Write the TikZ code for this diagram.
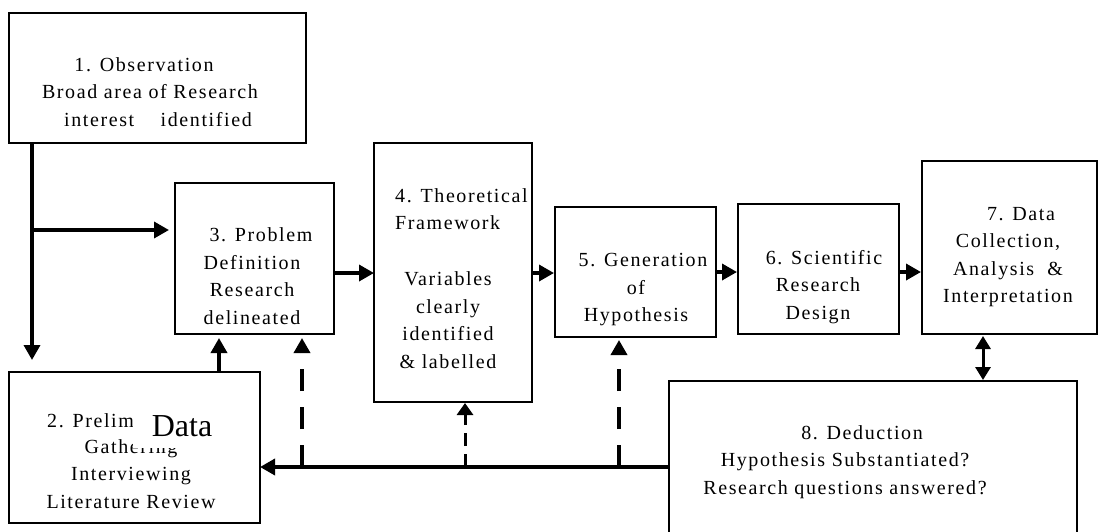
\documentclass[tikz,border=0pt]{standalone}
\usepackage{fontspec}
\setmainfont{Liberation Serif}[LetterSpace=8]
\newfontfamily\plainserif{Liberation Serif}
\usetikzlibrary{arrows.meta}

\begin{document}
\begin{tikzpicture}[x=1pt,y=-1pt,
  box/.style={draw, line width=1.3pt, inner sep=0pt, outer sep=0pt},
  txt/.style={font=\fontsize{20}{27.5}\selectfont, align=center, inner sep=0pt},
  arr/.style={line width=3.5pt, -{Triangle[length=15pt,width=16pt]}},
  darr/.style={arr, dash pattern=on 22pt off 16pt},
  sdarr/.style={line width=3pt, -{Triangle[length=12pt,width=16pt]}, dash pattern=on 13pt off 8pt},
  dblarr/.style={line width=3pt, {Triangle[length=13pt,width=15pt]}-{Triangle[length=13pt,width=15pt]}}
]
\useasboundingbox (0,0) rectangle (1099,531);
\clip (0,0) rectangle (1099,531);
\fill[white] (0,0) rectangle (1099,531);

% boxes
\node[box, minimum width=297pt, minimum height=130pt] (b1) at (157.5,78) {};
\node[box, minimum width=251pt, minimum height=151pt] (b2) at (134.5,447.5) {};
\node[box, minimum width=159pt, minimum height=151pt] (b3) at (254.5,258.5) {};
\node[box, minimum width=158pt, minimum height=259pt] (b4) at (453,272.5) {};
\node[box, minimum width=161pt, minimum height=130pt] (b5) at (635.5,272) {};
\node[box, minimum width=161pt, minimum height=130pt] (b6) at (818.5,269) {};
\node[box, minimum width=175pt, minimum height=173pt] (b7) at (1009.5,247.5) {};
\node[box, minimum width=408pt, minimum height=179pt] (b8) at (873,470.5) {};

% texts
\node[txt] (t1) at (150,92) {1. Observation\hspace*{12pt}\\Broad area of Research\\\hspace*{16pt}interest\ \ \ \ identified};
\node[txt, anchor=west] (t2a) at (47,421) {2. Prelim};
\node[txt] (t2g) at (131,449) {Gathering};
\node[txt, font=\fontsize{20}{28}\selectfont] (t2b) at (131,488) {Interviewing\\Literature Review};
% white patch with the enlarged word on top of the second box's text
\fill[white] (133,400) rectangle (232,448);
\node[font=\plainserif\fontsize{32}{32}\selectfont, inner sep=0pt] (dt) at (182,426) {Data};
\node[txt] (t3) at (252,276) {\hspace*{18pt}3. Problem\\Definition\\Research\\delineated};
\node[txt, anchor=west, align=left] (t4a) at (395,209) {4. Theoretical\\Framework};
\node[txt] (t4b) at (448,320) {Variables\\clearly\\identified\\\& labelled};
\node[txt] (t5) at (636,290) {\hspace*{14pt}5. Generation\\of\\Hypothesis};
\node[txt] (t6) at (818,287) {\hspace*{12pt}6. Scientific\\Research\\Design};
\node[txt] (t7) at (1008,257) {\hspace*{26pt}7. Data\\Collection,\\Analysis\ \ \&\\Interpretation};
\node[txt] (t8) at (845,462) {\hspace*{34pt}8. Deduction\\Hypothesis Substantiated?\\Research questions answered?};

% connectors
\coordinate (j1) at (32,230);
\coordinate (d1) at (32,360);
\draw[arr] (j1 |- b1.south) -- (d1);
\draw[arr] (j1) -- ([xshift=-6pt]j1 -| b3.west);

\coordinate (u1) at (219,338);
\draw[arr] (u1 |- b2.north) -- (u1);

\coordinate (h1) at (0,273);
\draw[arr] (h1 -| b3.east) -- (h1 -| b4.west);
\draw[arr] (h1 -| b4.east) -- ([xshift=-1pt]h1 -| b5.west);
\coordinate (h2) at (0,272);
\draw[arr] (h2 -| b5.east) -- ([xshift=-1pt]h2 -| b6.west);
\draw[arr] (h2 -| b6.east) -- ([xshift=-1pt]h2 -| b7.west);

\coordinate (v7) at (983,0);
\draw[dblarr] ([yshift=-2pt]v7 |- b7.south) -- ([yshift=1pt]v7 |- b8.north);

\coordinate (fb) at (0,467);
\draw[arr] (fb -| b8.west) -- (fb -| b2.east);

\coordinate (x1) at (302,467);
\draw[darr] (x1) -- ([yshift=-4pt]x1 |- b3.south);
\coordinate (x2) at (465,467);
\draw[sdarr] (x2) -- ([yshift=-1pt]x2 |- b4.south);
\coordinate (x3) at (619,467);
\draw[darr] (x3) -- ([yshift=-3pt]x3 |- b5.south);
\end{tikzpicture}
\end{document}
